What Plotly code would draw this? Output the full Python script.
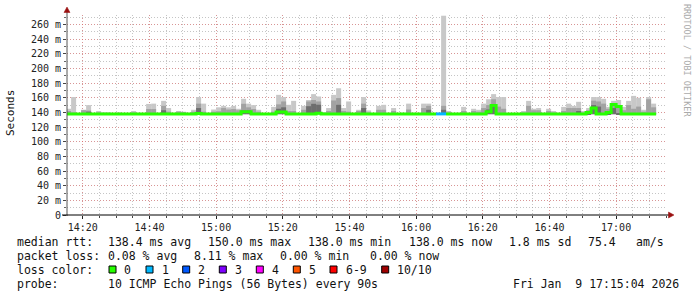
import plotly.graph_objects as go
from datetime import datetime, timedelta

# ---------------- data ----------------
start = datetime(2026, 1, 9, 14, 15, 0)
step_s = 90

rtt_max = [
    145, 161, 139, 143.7, 150, 139, 142, 140, 140, 139,
    139.7, 139, 139, 142, 139.5, 139, 151.6, 152, 139.5, 155.8,
    146, 139.5, 142, 141, 139.5, 143.6, 161, 152, 139.5, 144,
    147, 149, 147, 149, 145, 158.6, 152, 150, 143.6, 139,
    139, 147.6, 164, 161, 150.4, 155.8, 139, 149, 157, 165,
    161.8, 140.5, 146, 164, 173, 146, 155, 139, 143.6, 161,
    142.7, 139, 149, 150.4, 139.5, 146, 139, 139.5, 152, 139.5,
    139.5, 152, 152, 139, 139, 272, 142, 139, 139.5, 147.6,
    139.5, 145, 143.6, 152, 158, 165, 161, 161, 139, 139,
    139, 142, 155.8, 145, 146, 139.5, 145, 142, 139.5, 147.6,
    152, 149, 154.5, 142, 146, 161, 161, 158.6, 147.6, 155.8,
    157, 147.6, 155.8, 162.6, 160, 143.6, 161, 152,
]
rtt_mid = [
    142, 140, 139, 143, 142.6, 139, 140, 139.5, 139.5, 139,
    139.5, 139, 139, 140, 139, 139, 144.6, 144.6, 139, 149,
    141, 139, 141, 140.5, 139, 141, 152, 141, 139, 141,
    141.6, 146, 144, 144.6, 143, 151.8, 147, 144.6, 141, 139,
    139, 141, 151, 155, 142, 142, 139, 143.6, 155, 157,
    155, 139.5, 142, 156.3, 159.6, 142, 141, 139, 142, 152,
    140, 139, 143.6, 143.6, 139, 142, 139, 139, 144, 139,
    139, 146, 149, 139, 139, 149, 140, 139, 139, 142,
    139, 142, 141, 146, 150, 158, 148, 145, 139, 139,
    139, 140, 149, 143, 143, 139, 142, 140, 139, 142,
    146, 146, 146, 140, 143, 156, 155, 152, 145, 152,
    148, 143, 150, 145, 148, 141, 158, 147,
]
rtt_dark = [
    138.5, 138.5, 138.5, 138.5, 141, 138.5, 138.5, 138.5, 138.5, 138.5,
    138.5, 138.5, 138.5, 138.5, 138.5, 138.5, 138.5, 138.5, 138.5, 143,
    138.5, 138.5, 138.5, 138.5, 138.5, 138.5, 146, 138.5, 138.5, 138.5,
    138.5, 138.5, 138.5, 138.5, 138.5, 142.7, 142.7, 138.5, 138.5, 138.5,
    138.5, 138.5, 145, 147, 138.5, 138.5, 138.5, 138.5, 148.5, 151.8,
    150.5, 138.5, 138.5, 138.5, 150.4, 138.5, 138.5, 138.5, 138.5, 146,
    138.5, 138.5, 138.5, 138.5, 138.5, 138.5, 138.5, 138.5, 138.5, 138.5,
    138.5, 138.5, 143.6, 138.5, 138.5, 143.6, 138.5, 138.5, 138.5, 138.5,
    138.5, 138.5, 138.5, 138.5, 144, 150, 138.5, 138.5, 138.5, 138.5,
    138.5, 138.5, 138.5, 138.5, 138.5, 138.5, 138.5, 138.5, 138.5, 138.5,
    138.5, 138.5, 142, 138.5, 138.5, 150, 148, 138.5, 138.5, 146,
    138.5, 138.5, 138.5, 138.5, 138.5, 138.5, 138.5, 138.5,
]
rtt_min = [
    137.6, 137.6, 137.6, 137.6, 137.6, 137.6, 137.6, 137.6, 137.6, 137.6,
    137.6, 137.6, 137.6, 137.6, 137.6, 137.6, 137.6, 137.6, 137.6, 137.6,
    137.6, 137.6, 137.6, 137.6, 137.6, 137.6, 136.5, 137.6, 137.6, 137.6,
    137.6, 137.6, 137.6, 137.6, 137.6, 137.6, 137.6, 137.6, 137.6, 137.6,
    137.6, 137.6, 137.6, 137.6, 137.6, 137.6, 137.6, 137.6, 137.6, 137.6,
    137.6, 137.6, 137.6, 137.6, 137.6, 137.6, 137.6, 137.6, 137.6, 137.6,
    137.6, 137.6, 137.6, 137.6, 137.6, 137.6, 137.6, 137.6, 137.6, 137.6,
    137.6, 137.6, 137.6, 137.6, 137.6, 137.6, 137.6, 137.6, 137.6, 137.6,
    137.6, 137.6, 137.6, 137.6, 137.6, 137.6, 137.6, 137.6, 137.6, 137.6,
    137.6, 137.6, 137.6, 137.6, 137.6, 137.6, 137.6, 137.6, 137.6, 137.6,
    137.6, 137.6, 137.6, 137.6, 137.6, 137.6, 137.6, 137.6, 137.6, 137.6,
    137.6, 137.6, 137.6, 137.6, 137.6, 137.6, 137.6, 137.6,
]
median = [
    138, 138, 138, 138, 138, 138, 138, 138, 138, 138,
    138, 138, 138, 138, 138, 138, 138, 138, 138, 138,
    138, 138, 138, 138, 138, 138, 138.5, 138, 138, 138,
    138, 138, 138, 138, 138, 141, 141, 138, 138, 138,
    138, 138, 140.5, 140.5, 138, 138, 138, 138, 138, 138,
    139, 138, 138, 138, 138, 138, 138, 138, 138, 138,
    138, 138, 138, 138, 138, 138, 138, 138, 138, 138,
    138, 138, 138, 138, 138, 138, 138, 138, 138, 138,
    138, 138, 138, 138, 141, 149.5, 138, 138, 138, 138,
    138, 138, 138, 138, 138, 138, 138, 138, 138, 138,
    138, 138, 138, 138, 140, 146, 138, 138, 140, 151,
    148, 138, 138, 138, 138, 138, 138, 138,
]
loss = [
    0, 0, 0, 0, 0, 0, 0, 0, 0, 0,
    0, 0, 0, 0, 0, 0, 0, 0, 0, 0,
    0, 0, 0, 0, 0, 0, 0, 0, 0, 0,
    0, 0, 0, 0, 0, 0, 0, 0, 0, 0,
    0, 0, 0, 0, 0, 0, 0, 0, 0, 0,
    0, 0, 0, 0, 0, 0, 0, 0, 0, 0,
    0, 0, 0, 0, 0, 0, 0, 0, 0, 0,
    0, 0, 0, 0, 1, 1, 0, 0, 0, 0,
    0, 0, 0, 0, 0, 0, 0, 0, 0, 0,
    0, 0, 0, 0, 0, 0, 0, 0, 0, 0,
    0, 0, 0, 0, 0, 0, 0, 0, 0, 0,
    0, 0, 0, 0, 0, 0, 0, 0,
]

loss_labels = ["0", "1", "2", "3", "4", "5", "6-9", "10/10"]
loss_colors = ["#26ff00", "#00b8ff", "#0059ff", "#7e00ff", "#ff00ff",
               "#ff5500", "#ff0000", "#a00000"]

x_tickvals = ["2026-01-09 14:20", "2026-01-09 14:40", "2026-01-09 15:00",
              "2026-01-09 15:20", "2026-01-09 15:40", "2026-01-09 16:00",
              "2026-01-09 16:20", "2026-01-09 16:40", "2026-01-09 17:00"]
x_ticktext = ["14:20", "14:40", "15:00", "15:20", "15:40", "16:00",
              "16:20", "16:40", "17:00"]
y_tickvals = [0, 20, 40, 60, 80, 100, 120, 140, 160, 180, 200, 220, 240, 260]
y_ticktext = ["0", "20 m", "40 m", "60 m", "80 m", "100 m", "120 m", "140 m",
              "160 m", "180 m", "200 m", "220 m", "240 m", "260 m"]

stats_rtt = ["138.4 ms avg", "150.0 ms max", "138.0 ms min", "138.0 ms now",
             "1.8 ms sd", "75.4", "am/s"]
stats_loss = ["0.08 % avg", "8.11 % max", "0.00 % min", "0.00 % now"]
probe_text = "10 ICMP Echo Pings (56 Bytes) every 90s"
date_text = "Fri Jan\u00a0\u00a09 17:15:04 2026"

# ---------------- geometry helpers ----------------
W, H = 697, 297
L, R, T, B = 67, 30, 15, 82
PW, PH = W - L - R, H - T - B


def X(px):
    return (px - L) / PW


def Y(py):
    return (H - B - py) / PH


MONO = "DejaVu Sans Mono"

n = len(rtt_max)
edges = [start + timedelta(seconds=step_s * i) for i in range(n + 1)]
centers = [start + timedelta(seconds=step_s * i + step_s / 2) for i in range(n)]

fig = go.Figure()

for top, col in [(rtt_max, "#c8c8c8"), (rtt_mid, "#a2a2a2"), (rtt_dark, "#6e6e6e")]:
    fig.add_trace(go.Bar(
        x=centers, y=[t - b for t, b in zip(top, rtt_min)], base=rtt_min,
        width=step_s * 1000, marker=dict(color=col, line=dict(width=0)),
        hoverinfo="skip", showlegend=False))

# median line coloured by loss, grouped in runs of equal loss
i = 0
while i < n:
    j = i
    while j + 1 < n and loss[j + 1] == loss[i]:
        j += 1
    xs = edges[i:j + 2]
    ys = median[i:j + 1] + [median[j]]
    fig.add_trace(go.Scatter(
        x=xs, y=ys, mode="lines", line=dict(color=loss_colors[loss[i]], width=3, shape="hv"),
        hoverinfo="skip", showlegend=False))
    i = j + 1

grid_major = "rgba(240,90,90,0.45)"
grid_minor = "rgba(150,150,150,0.55)"

fig.update_layout(
    width=W, height=H,
    margin=dict(l=L, r=R, t=T, b=B, pad=0),
    paper_bgcolor="white", plot_bgcolor="white",
    barmode="overlay", showlegend=False,
    font=dict(family=MONO, size=10, color="#222"),
    xaxis=dict(
        type="date",
        range=[start + timedelta(seconds=16), start + timedelta(seconds=16 + 600 * 18)],
        tickmode="array", tickvals=x_tickvals, ticktext=x_ticktext,
        tickfont=dict(family=MONO, size=10, color="#222"),
        showgrid=True, gridcolor=grid_major, griddash="1px,2px", gridwidth=1,
        minor=dict(dtick=300000, tick0="2026-01-09 14:20", showgrid=True,
                   gridcolor=grid_minor, griddash="1px,2px", gridwidth=1,
                   ticks="outside", ticklen=2, tickcolor="#444"),
        ticks="outside", ticklen=3, tickcolor="#222",
        showline=False, zeroline=False, fixedrange=True,
    ),
    yaxis=dict(
        range=[0, 273],
        tickmode="array", tickvals=y_tickvals, ticktext=y_ticktext,
        tickfont=dict(family=MONO, size=10, color="#222"),
        showgrid=True, gridcolor=grid_major, griddash="1px,2px", gridwidth=1,
        minor=dict(dtick=10, tick0=0, showgrid=True, gridcolor=grid_minor,
                   griddash="1px,2px", gridwidth=1, ticks="outside", ticklen=2,
                   tickcolor="#666"),
        ticks="outside", ticklen=3, tickcolor="#444",
        showline=False, zeroline=False, fixedrange=True,
    ),
)

shapes = [
    dict(type="line", xref="paper", yref="paper", x0=X(67), x1=X(67), y0=Y(216), y1=Y(11),
         line=dict(color="#555", width=1)),
    dict(type="line", xref="paper", yref="paper", x0=X(62), x1=X(669), y0=Y(215), y1=Y(215),
         line=dict(color="#000", width=1)),
    dict(type="path", xref="paper", yref="paper",
         path=f"M {X(64)},{Y(12.5)} L {X(70)},{Y(12.5)} L {X(67)},{Y(7)} Z",
         fillcolor="#9a1010", line=dict(color="#9a1010", width=0.5)),
    dict(type="path", xref="paper", yref="paper",
         path=f"M {X(668.5)},{Y(212)} L {X(668.5)},{Y(218)} L {X(674)},{Y(215)} Z",
         fillcolor="#9a1010", line=dict(color="#9a1010", width=0.5)),
]

annotations = []


def text(px, py, s, size=11.5, color="#111", angle=0, xanchor="left"):
    annotations.append(dict(
        x=X(px), y=Y(py), xref="paper", yref="paper", text=s, showarrow=False,
        xanchor=xanchor, yanchor="middle", textangle=angle, borderpad=0,
        font=dict(family=MONO, size=size, color=color)))


text(10, 113, "Seconds", size=11, angle=-90, xanchor="center")
text(687, 60, "RRDTOOL / TOBI OETIKER", size=8.5, color="#aaaaaa", angle=90, xanchor="center")

# legend line 1
text(16, 241.5, "median rtt:")
for px, s in zip([107.3, 207.3, 307.3, 408.3, 508.3, 586.7, 635], stats_rtt):
    text(px, 241.5, s)
# legend line 2
text(16, 255.5, "packet loss:")
for px, s in zip([107.3, 193.3, 279.3, 369], stats_loss):
    text(px, 255.5, s)
# legend line 3
text(16, 269.5, "loss color:")
sq_x = [109, 146, 182.7, 219.3, 256.3, 293.3, 330, 381.7]
lab_x = [123.3, 160.7, 197.3, 234.3, 271, 307.7, 345, 396]
for sx, lx, lab, col in zip(sq_x, lab_x, loss_labels, loss_colors):
    shapes.append(dict(type="rect", xref="paper", yref="paper",
                       x0=X(sx), x1=X(sx + 7), y0=Y(273), y1=Y(266),
                       fillcolor=col, line=dict(color="#000", width=1)))
    text(lx, 269.5, lab)
# legend line 4
text(16, 283.5, "probe:")
text(107.3, 283.5, probe_text)
text(680, 283.5, date_text, xanchor="right")

fig.update_layout(shapes=shapes, annotations=annotations)

fig.write_html("out.html")
